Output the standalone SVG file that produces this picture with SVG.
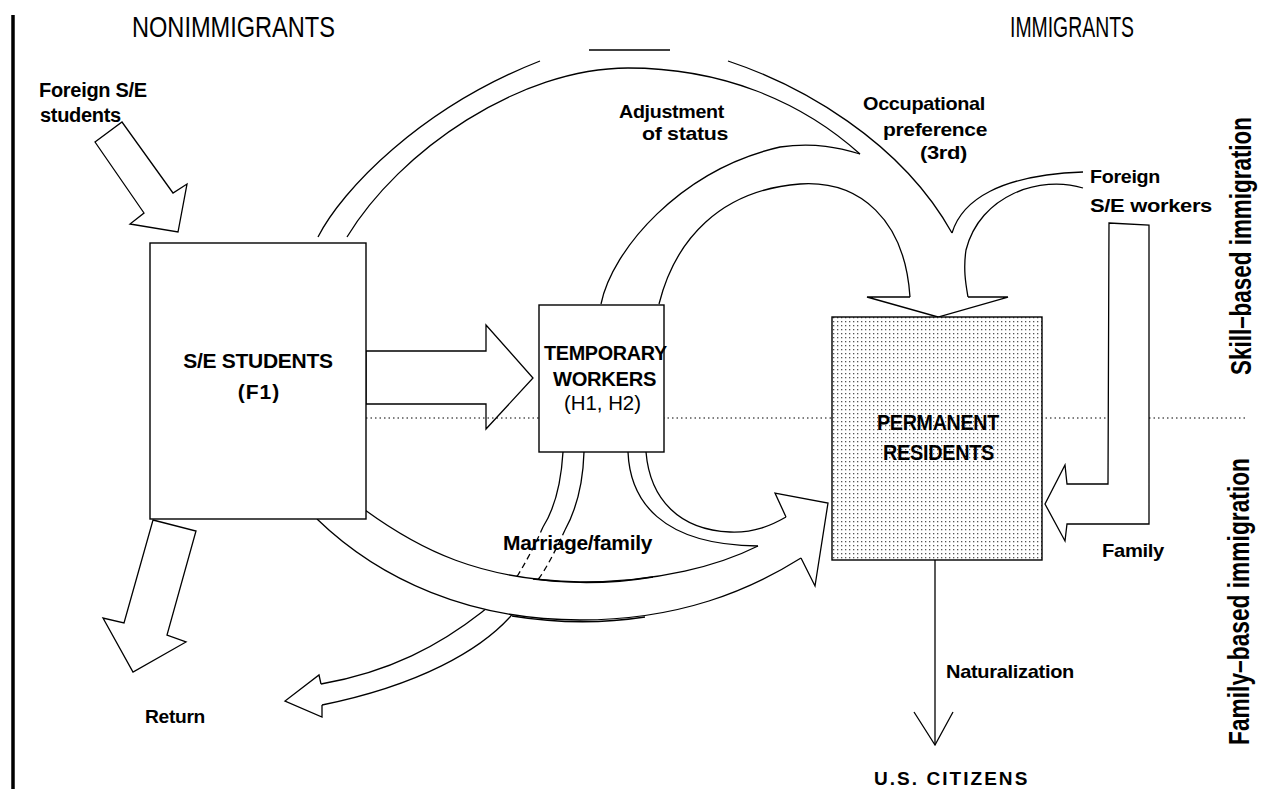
<svg xmlns="http://www.w3.org/2000/svg" width="1276" height="789" viewBox="0 0 1276 789">
<defs>
<style>
.ln{fill:none;stroke:#000;stroke-width:1.3;stroke-linejoin:miter}
.wf{fill:#fff;stroke:#000;stroke-width:1.3}
.box{fill:#fff;stroke:#000;stroke-width:1.4}
.dash{fill:none;stroke:#000;stroke-width:1.3;stroke-dasharray:6 4}
.lbl{font-family:"Liberation Sans",Arial,sans-serif;font-weight:bold;font-size:19px;fill:#000;letter-spacing:-0.3px}
.hdr{font-family:"Liberation Sans",Arial,sans-serif;font-size:30px;fill:#000}
.side{font-family:"Liberation Sans",Arial,sans-serif;font-weight:bold;font-size:29px;fill:#000}
.reg{font-family:"Liberation Sans",Arial,sans-serif;font-size:20px;fill:#000}
</style>
<pattern id="dots" width="4" height="4" patternUnits="userSpaceOnUse">
<rect width="4" height="4" fill="#fff"/>
<rect x="1" y="1" width="1.3" height="1.3" fill="#555"/>
</pattern>
</defs>
<rect width="1276" height="789" fill="#fff"/>

<g id="frame">
<line x1="13" y1="15" x2="13" y2="789" stroke="#000" stroke-width="3.5"/>
<text class="hdr" x="132" y="37" textLength="203" lengthAdjust="spacingAndGlyphs">NONIMMIGRANTS</text>
<text class="hdr" x="1010" y="37" textLength="124" lengthAdjust="spacingAndGlyphs">IMMIGRANTS</text>
<text class="side" transform="translate(1251,375) rotate(-90)" textLength="258" lengthAdjust="spacingAndGlyphs">Skill–based immigration</text>
<text class="side" transform="translate(1249,745) rotate(-90)" textLength="287" lengthAdjust="spacingAndGlyphs">Family–based immigration</text>
</g>

<g id="separator">
<line x1="366" y1="418" x2="1245" y2="418" stroke="#000" stroke-width="1" stroke-dasharray="1.5 3"/>
</g>

<g id="connectors">
<polygon class="wf" points="95,142 122,122 173,193 187,184 178,232 130,224 144,213"/>
<polygon class="wf" points="153,520 196,531 167,635 186,642 133,672 103,618 124,623"/>
<polygon class="ln" points="366,351 486,351 486,325 533,378 486,429 486,404 366,404"/>

<path class="ln" d="M318,237 C342,190 420,108 540,61"/>
<path class="ln" d="M589,50 L670,50"/>
<path class="ln" d="M728,61 C800,85 900,140 952,233"/>
<path class="ln" d="M347,237 C400,150 520,68 628,68 C720,68 800,100 860,154"/>
<path class="ln" d="M601,304 C612,250 680,170 780,147 C815,142 840,148 860,154"/>
<path class="ln" d="M659,304 C675,240 720,190 800,184 C860,180 905,220 910,297"/>
<path class="ln" d="M952,233 C962,200 1000,175 1083,172"/>
<path class="ln" d="M1083,188 C1040,175 980,195 966,250 C963,270 966,285 968,297"/>
<path class="ln" d="M910,297 L867,297 L938,317 L1008,297 L968,297"/>

<path class="ln" d="M563,452 C561,485 555,508 543,527"/>
<path class="dash" d="M543,527 C535,545 527,560 518,575"/>
<path class="ln" d="M518,575 C505,590 495,602 482,612 C440,645 390,672 321,684"/>
<path class="ln" d="M584,452 C583,485 576,510 565,530"/>
<path class="dash" d="M565,530 C558,545 550,562 540,577"/>
<path class="ln" d="M540,577 C530,590 520,605 510,617 C480,650 420,685 322,705"/>
<path class="ln" d="M321,684 L319,675 L285,701 L322,717 L322,705"/>

<path fill="#fff" stroke="none" d="M365,510 C420,550 480,580 580,582 C660,582 720,565 758,546 L786,517 L775,493 L828,503 L815,586 L801,558 C750,590 680,620 580,620 C470,620 380,580 317,519 Z"/>
<path class="ln" d="M365,510 C420,550 480,580 580,582 C660,582 720,565 758,546"/>
<path class="ln" d="M317,519 C380,580 470,620 580,620 C680,620 750,590 801,558"/>
<path class="ln" d="M533,579 Q593,587 653,577"/>
<path class="ln" d="M512,616 Q580,627 645,617"/>
<path class="ln" d="M646,452 C650,500 680,530 730,532 C755,533 772,525 786,517"/>
<path class="ln" d="M628,452 C630,500 660,545 758,546"/>
<path class="ln" d="M786,517 L775,493 L828,503 L815,586 L801,558"/>

<polygon class="wf" points="1109,223 1149,225 1149,524 1067,524 1065,541 1045,504 1065,465 1067,484 1108,484"/>

<line x1="935" y1="560" x2="935" y2="745" stroke="#000" stroke-width="1.3"/>
<path class="ln" d="M914,712 L935,745 L953,712"/>
</g>

<g id="node-students">
<rect class="box" x="150" y="243" width="216" height="276"/>
<text class="lbl" x="258" y="368" text-anchor="middle" style="font-size:21px">S/E STUDENTS</text>
<text class="lbl" x="259" y="399" text-anchor="middle" style="font-size:21px;letter-spacing:1px">(F1)</text>
</g>

<g id="node-temporary">
<rect class="box" x="539" y="305" width="125" height="147"/>
<text class="lbl" x="544" y="360" textLength="123" lengthAdjust="spacingAndGlyphs" style="font-size:20px">TEMPORARY</text>
<text class="lbl" x="553" y="386" textLength="103" lengthAdjust="spacingAndGlyphs" style="font-size:20px">WORKERS</text>
<text class="reg" x="564" y="410" textLength="77" lengthAdjust="spacingAndGlyphs">(H1, H2)</text>
</g>

<g id="node-permanent">
<rect x="832" y="317" width="210" height="243" fill="url(#dots)" stroke="#000" stroke-width="1.4"/>
<text class="lbl" x="877" y="430" textLength="122" lengthAdjust="spacingAndGlyphs" style="font-size:22px">PERMANENT</text>
<text class="lbl" x="883" y="460" textLength="111" lengthAdjust="spacingAndGlyphs" style="font-size:22px">RESIDENTS</text>
</g>

<g id="node-citizens">
<text class="lbl" x="874" y="785" textLength="153" lengthAdjust="spacing">U.S. CITIZENS</text>
</g>

<g id="labels">
<text class="lbl" x="39" y="97" style="font-size:20px">Foreign S/E</text>
<text class="lbl" x="40" y="122" style="font-size:20px">students</text>
<text class="lbl" x="619" y="118" textLength="105" lengthAdjust="spacingAndGlyphs">Adjustment</text>
<text class="lbl" x="642" y="140" textLength="86" lengthAdjust="spacingAndGlyphs">of status</text>
<text class="lbl" x="863" y="110" textLength="122" lengthAdjust="spacingAndGlyphs">Occupational</text>
<text class="lbl" x="883" y="136" textLength="104" lengthAdjust="spacingAndGlyphs">preference</text>
<text class="lbl" x="920" y="159" textLength="47" lengthAdjust="spacingAndGlyphs">(3rd)</text>
<text class="lbl" x="1090" y="183" textLength="70" lengthAdjust="spacingAndGlyphs">Foreign</text>
<text class="lbl" x="1090" y="212" textLength="122" lengthAdjust="spacingAndGlyphs">S/E workers</text>
<text class="lbl" x="503" y="550" textLength="149" lengthAdjust="spacingAndGlyphs" style="font-size:20px">Marriage/family</text>
<text class="lbl" x="145" y="723" textLength="60" lengthAdjust="spacingAndGlyphs">Return</text>
<text class="lbl" x="1102" y="557" textLength="62" lengthAdjust="spacingAndGlyphs">Family</text>
<text class="lbl" x="946" y="678" textLength="128" lengthAdjust="spacingAndGlyphs">Naturalization</text>
</g>
</svg>
